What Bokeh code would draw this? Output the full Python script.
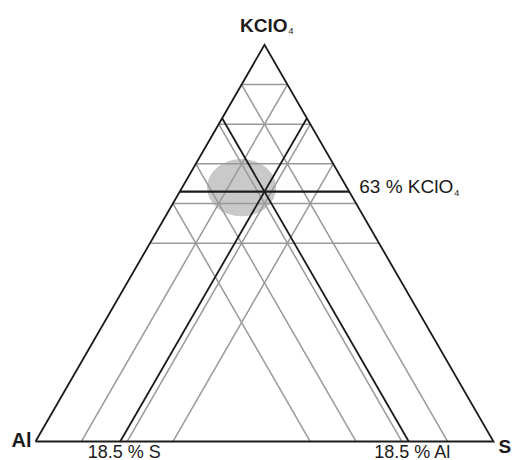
import math

from bokeh.core.properties import value
from bokeh.embed import file_html
from bokeh.models import Range1d
from bokeh.plotting import figure
from bokeh.resources import INLINE

# Composition grid (percent) drawn as thin gray guide lines
kclo4_grid = [50, 60, 70, 80, 90]
s_grid = [10, 20, 30]
al_grid = [10, 20, 30, 40]

# Selected composition, marked by bold lines
sel_kclo4 = 63.0
sel_s = 18.5
sel_al = 18.5

# Shaded region of good mixtures (centre composition, percent)
region_al = 23.0
region_s = 13.0
region_kclo4 = 64.0

H3 = math.sqrt(3) / 2


def xy(al, s, k):
    """Ternary percentages -> cartesian (Al at origin, S at (1, 0))."""
    tot = al + s + k
    s, k = s / tot, k / tot
    return s + k / 2, k * H3


def iso_k(k):
    a = xy(100 - k, 0, k)
    b = xy(0, 100 - k, k)
    return [a[0], b[0]], [a[1], b[1]]


def iso_s(s):
    a = xy(100 - s, s, 0)
    b = xy(0, s, 100 - s)
    return [a[0], b[0]], [a[1], b[1]]


def iso_al(al):
    a = xy(al, 100 - al, 0)
    b = xy(al, 0, 100 - al)
    return [a[0], b[0]], [a[1], b[1]]


W, H = 512, 460
left_px, base_px, side_px = 35, 441, 458

p = figure(
    width=W, height=H,
    x_range=Range1d(-left_px / side_px, (W - left_px) / side_px),
    y_range=Range1d(-(H - base_px) / side_px, base_px / side_px),
    output_backend="svg", toolbar_location=None, min_border=0,
)
p.axis.visible = False
p.grid.visible = False
p.outline_line_color = None
p.background_fill_color = "white"
p.border_fill_color = "white"

# shaded region
cx, cy = xy(region_al, region_s, region_kclo4)
p.ellipse(x=[cx], y=[cy], width=0.151, height=0.125,
          fill_color="#c9c9c9", line_color=None)

# gray grid lines
gx, gy = [], []
for k in kclo4_grid:
    a, b = iso_k(k)
    gx.append(a); gy.append(b)
for s in s_grid:
    a, b = iso_s(s)
    gx.append(a); gy.append(b)
for al in al_grid:
    a, b = iso_al(al)
    gx.append(a); gy.append(b)
p.multi_line(xs=gx, ys=gy, line_color="#999999", line_width=1.5)

# selected composition lines
dark = "#1c1a1b"
bx, by = [], []
for a, b in (iso_s(sel_s), iso_al(sel_al)):
    bx.append(a); by.append(b)
p.multi_line(xs=bx, ys=by, line_color=dark, line_width=1.8)
kx, ky = iso_k(sel_kclo4)
p.line(kx, ky, line_color=dark, line_width=2.4)

# triangle outline
v_al, v_s, v_k = xy(100, 0, 0), xy(0, 100, 0), xy(0, 0, 100)
p.line([v_al[0], v_s[0], v_k[0], v_al[0]], [v_al[1], v_s[1], v_k[1], v_al[1]],
       line_color=dark, line_width=1.8, line_join="miter")

font = value("Liberation Sans")

# vertex labels
p.text(x=[v_k[0]], y=[v_k[1]], text=["KClO"], text_font=font, text_font_size="19px",
       text_font_style="bold", text_align="right", text_baseline="alphabetic",
       x_offset=23, y_offset=-19, text_color=dark)
p.text(x=[v_k[0]], y=[v_k[1]], text=["4"], text_font=font, text_font_size="9px",
       text_align="left", text_baseline="alphabetic",
       x_offset=24, y_offset=-14, text_color=dark)
p.text(x=[v_al[0]], y=[v_al[1]], text=["Al"], text_font=font, text_font_size="20px",
       text_font_style="bold", text_align="right", text_baseline="alphabetic",
       x_offset=-4, y_offset=-2, text_color=dark)
p.text(x=[v_s[0]], y=[v_s[1]], text=["S"], text_font=font, text_font_size="19px",
       text_font_style="bold", text_align="left", text_baseline="alphabetic",
       x_offset=5, y_offset=5, text_color=dark)

# selected composition labels
sx0, sy0 = xy(100 - sel_s, sel_s, 0)
p.text(x=[sx0], y=[sy0], text=[f"{sel_s:g} % S"], text_font=font, text_font_size="18px",
       text_align="center", text_baseline="alphabetic",
       x_offset=4, y_offset=10, text_color=dark)
ax0, ay0 = xy(sel_al, 100 - sel_al, 0)
p.text(x=[ax0], y=[ay0], text=[f"{sel_al:g} % Al"], text_font=font, text_font_size="18px",
       text_align="center", text_baseline="alphabetic",
       x_offset=4, y_offset=10, text_color=dark)
kx1, ky1 = kx[1], ky[1]
p.text(x=[kx1], y=[ky1], text=[f"{sel_kclo4:g} % KClO"], text_font=font,
       text_font_size="19px", text_align="right", text_baseline="alphabetic",
       x_offset=104, y_offset=-5, text_color=dark)
p.text(x=[kx1], y=[ky1], text=["4"], text_font=font, text_font_size="9px",
       text_align="left", text_baseline="alphabetic",
       x_offset=105, y_offset=1, text_color=dark)

open("out.html", "w").write(file_html(p, INLINE))
